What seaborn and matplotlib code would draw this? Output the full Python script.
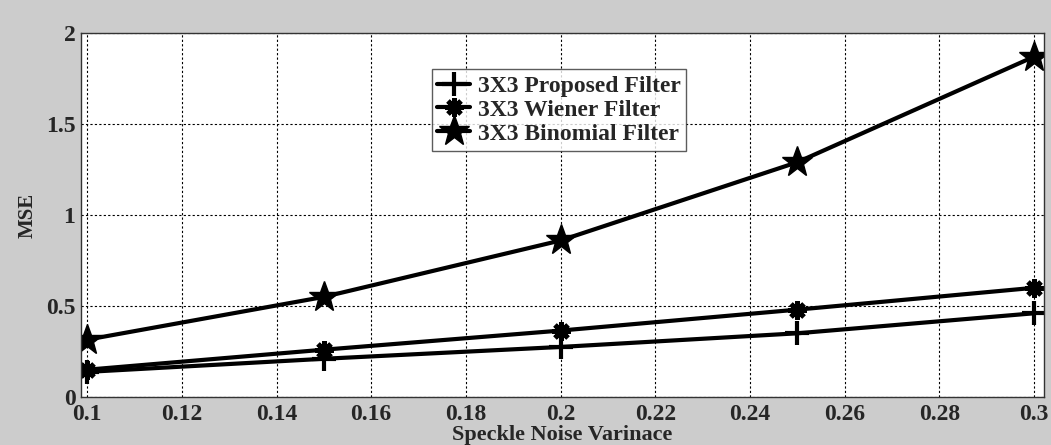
import numpy as np
import pandas as pd
import matplotlib.pyplot as plt
import seaborn as sns

# values
variance = [0.10, 0.15, 0.20, 0.25, 0.30]
proposed = [0.138, 0.21, 0.275, 0.35, 0.46]
wiener = [0.15, 0.26, 0.365, 0.48, 0.60]
binomial = [0.315, 0.55, 0.86, 1.29, 1.87]
labels = ['3X3 Proposed Filter', '3X3 Wiener Filter', '3X3 Binomial Filter']

sns.set_style('white')
plt.rcParams['font.family'] = ['Liberation Serif', 'DejaVu Serif']
plt.rcParams['font.weight'] = 'bold'

fig = plt.figure(figsize=(10.51, 4.45), dpi=100, facecolor='#cccccc')
ax = fig.add_axes([81 / 1051, 48 / 445, 963 / 1051, 364 / 445])
ax.set_facecolor('white')

# one call per series (seaborn won't mix line-art and filled markers)
styles = [('+', 17, 3.0), ((8, 2, 0), 13, 3.5), ('*', 23, 1.0)]
for vals, lab, (mk, ms, mew) in zip([proposed, wiener, binomial], labels, styles):
    sns.lineplot(x=variance, y=vals, label=lab, color='black', linewidth=3,
                 marker=mk, markersize=ms, markeredgewidth=mew,
                 markerfacecolor='black', markeredgecolor='black', ax=ax)

ax.set_xlim(0.0987, 0.3021)
ax.set_ylim(0, 2)
ax.set_xticks(np.arange(0.1, 0.301, 0.02))
ax.set_xticklabels(['0.1', '0.12', '0.14', '0.16', '0.18', '0.2', '0.22', '0.24', '0.26', '0.28', '0.3'])
ax.set_yticks([0, 0.5, 1, 1.5, 2])
ax.set_yticklabels(['0', '0.5', '1', '1.5', '2'])
ax.grid(True, color='black', linestyle=(0, (2, 2)), linewidth=0.8)
ax.tick_params(labelsize=17, direction='in', length=5)
ax.tick_params(axis='x', pad=5)
ax.tick_params(axis='y', pad=4)
for s in ax.spines.values():
    s.set_color('#333333')
    s.set_linewidth(1)

ax.set_xlabel('Speckle Noise Varinace', fontsize=16, fontweight='bold', labelpad=0)
ax.set_ylabel('MSE', fontsize=15, fontweight='bold', labelpad=6)

leg = ax.legend(loc='upper left', bbox_to_anchor=(0.364, 0.9), fontsize=17,
                frameon=True, fancybox=False, edgecolor='#333333',
                handlelength=1.4, handletextpad=0.3, borderpad=0.25,
                labelspacing=0.1, borderaxespad=0)
leg.get_frame().set_linewidth(1)
for t in leg.get_texts():
    t.set_fontweight('bold')

fig.savefig('out.png', dpi=100, facecolor=fig.get_facecolor())
